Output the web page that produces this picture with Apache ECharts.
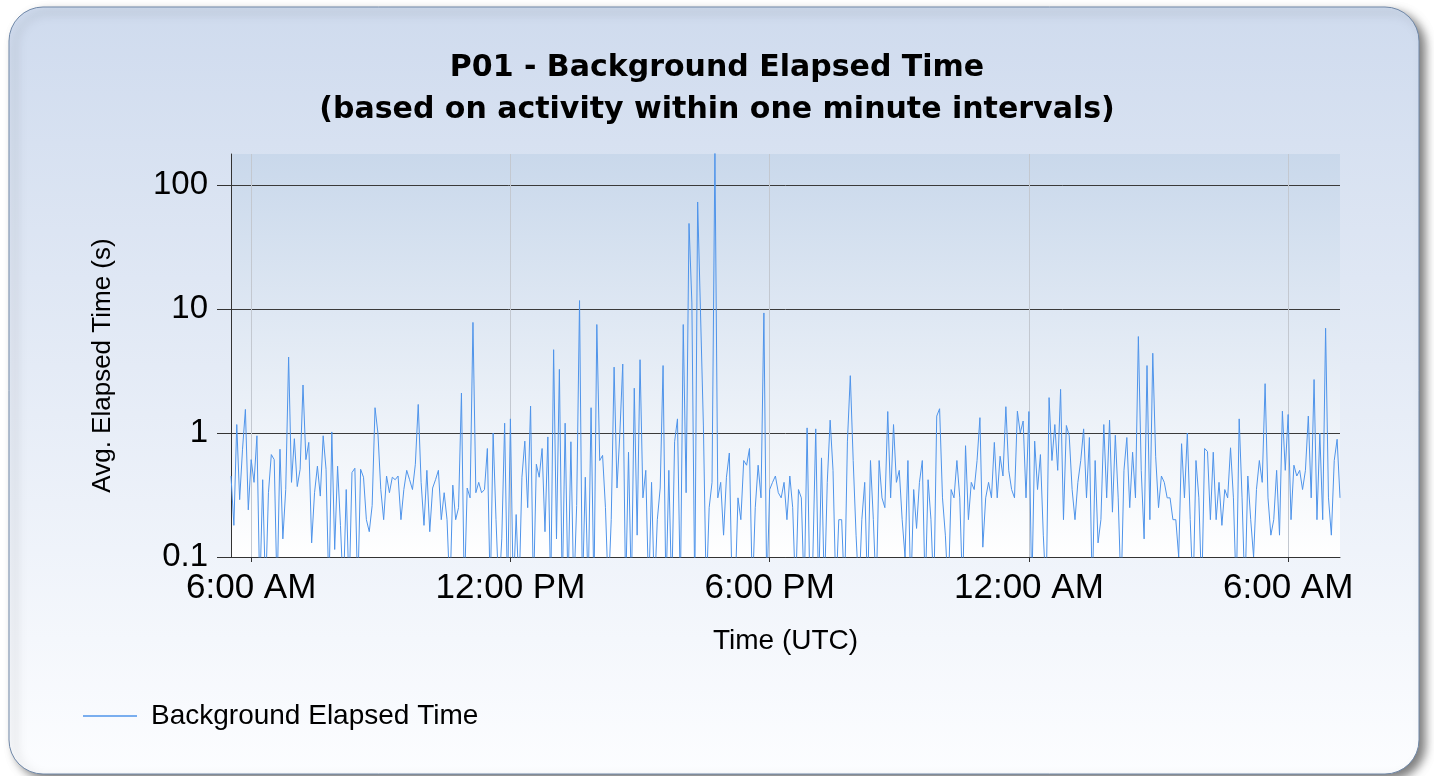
<!DOCTYPE html>
<html>
<head>
<meta charset="utf-8">
<title>P01 - Background Elapsed Time</title>
<script src="https://cdn.jsdelivr.net/npm/echarts@6/dist/echarts.min.js"></script>
<style>
    html, body { margin: 0; padding: 0; background: #ffffff; }
    #chart { width: 1434px; height: 776px; }
</style>
</head>
<body>
<div id="chart"></div>
<script>
    // readings taken every 4 minutes from 5:32 AM
    const startTime = new Date(2020, 0, 1, 5, 32).getTime();
    const endTime = new Date(2020, 0, 2, 7, 12).getTime();
    const stepMinutes = 4;

    const elapsed = [
        0.45, 0.18, 1.17, 0.29, 0.74, 1.55, 0.24, 0.61, 0.4, 0.95,
        0.05, 0.42, 0.05, 0.33, 0.67, 0.61, 0.05, 0.74, 0.14, 0.35,
        4.1, 0.4, 0.9, 0.37, 0.51, 2.44, 0.61, 0.84, 0.13, 0.33,
        0.54, 0.31, 0.95, 0.51, 0.05, 1.02, 0.115, 0.54, 0.18, 0.05,
        0.35, 0.05, 0.48,
        0.52, 0.05, 0.51, 0.44, 0.2, 0.16, 0.26, 1.6, 1.0, 0.35,
        0.2, 0.45, 0.33, 0.44, 0.42, 0.45, 0.2, 0.35, 0.5, 0.42,
        0.35, 0.56, 1.7, 0.4, 0.18, 0.5, 0.16, 0.36, 0.42, 0.5,
        0.2, 0.33, 0.2, 0.05, 0.38, 0.2, 0.25, 2.1, 0.05, 0.36,
        0.3, 7.8, 0.33,
        0.4, 0.33, 0.35, 0.75, 0.05, 1.0, 0.2, 0.05, 0.14, 1.2,
        0.05, 1.3, 0.05, 0.22, 0.05, 0.44, 0.86, 0.25, 1.65, 0.05,
        0.56, 0.44, 0.75, 0.16, 0.93, 0.05, 4.7, 0.14, 3.26, 0.05,
        1.2, 0.05, 0.85, 0.05, 0.26, 11.7, 0.05, 0.44, 0.05, 1.6,
        0.05, 7.5, 0.6,
        0.66, 0.25, 0.05, 0.2, 3.4, 0.36, 1.0, 3.6, 0.05, 0.7,
        0.05, 2.3, 0.15, 3.9, 0.3, 0.5, 0.05, 0.4, 0.05, 0.2,
        0.36, 3.5, 0.05, 0.5, 0.05, 0.85, 1.3, 0.05, 7.5, 0.33,
        49, 11.2, 0.05, 73, 9.3, 1.14, 0.05, 0.25, 0.4, 190,
        0.3, 0.4, 0.15,
        0.44, 0.69, 0.05, 0.05, 0.3, 0.2, 0.6, 0.55, 0.75, 0.05,
        0.25, 0.55, 0.3, 9.3, 0.05, 0.35, 0.4, 0.45, 0.33, 0.3,
        0.4, 0.2, 0.45, 0.25, 0.05, 0.35, 0.3, 0.05, 1.1, 0.05,
        0.1, 1.08, 0.05, 0.63, 0.05, 0.4, 1.27, 0.5, 0.05, 0.2,
        0.2, 0.05, 0.86,
        2.9, 0.6, 0.15, 0.05, 0.2, 0.4, 0.05, 0.6, 0.2, 0.05,
        0.6, 0.3, 0.25, 1.49, 0.3, 1.17, 0.4, 0.5, 0.2, 0.1,
        0.6, 0.05, 0.35, 0.17, 0.4, 0.6, 0.05, 0.42, 0.2, 0.05,
        1.37, 1.57, 0.3, 0.15, 0.05, 0.35, 0.3, 0.6, 0.3, 0.05,
        0.79, 0.2, 0.4,
        0.35, 0.6, 1.33, 0.12, 0.3, 0.4, 0.3, 0.84, 0.3, 0.65,
        0.45, 1.63, 0.5, 0.35, 0.3, 1.5, 1.0, 1.25, 0.3, 1.49,
        0.05, 0.86, 0.35, 0.67, 0.15, 0.05, 1.93, 0.6, 1.17, 0.5,
        2.25, 0.2, 1.15, 0.95, 0.35, 0.2, 0.4, 0.6, 1.08, 0.3,
        0.92, 0.05, 0.6,
        0.13, 0.2, 1.17, 0.3, 1.27, 0.23, 0.96, 0.3, 0.05, 0.5,
        0.92, 0.25, 0.7, 0.3, 6.0, 0.5, 0.14, 3.5, 0.2, 4.4,
        0.65, 0.25, 0.45, 0.4, 0.3, 0.3, 0.2, 0.2, 0.1, 0.82,
        0.3, 1.0, 0.2, 0.05, 0.6, 0.3, 0.05, 0.75, 0.71, 0.2,
        0.7, 0.2, 0.4,
        0.18, 0.35, 0.3, 0.76, 0.3, 0.05, 1.3, 0.3, 0.05, 0.45,
        0.2, 0.1, 0.35, 0.6, 0.4, 2.5, 0.3, 0.15, 0.2, 0.5,
        0.15, 1.5, 0.5, 1.41, 0.2, 0.55, 0.45, 0.5, 0.35, 0.5,
        1.37, 0.3, 2.7, 0.2, 1.0, 0.2, 7.0, 0.3, 0.15, 0.6,
        0.89, 0.3
    ];

    const xTickTimes = [
        new Date(2020, 0, 1, 6, 0).getTime(),
        new Date(2020, 0, 1, 12, 0).getTime(),
        new Date(2020, 0, 1, 18, 0).getTime(),
        new Date(2020, 0, 2, 0, 0).getTime(),
        new Date(2020, 0, 2, 6, 0).getTime()
    ];
    const xTickLabels = ['6:00 AM', '12:00 PM', '6:00 PM', '12:00 AM', '6:00 AM'];
    const yTickValues = [0.1, 1, 10, 100];
    const yTickLabels = ['0.1', '1', '10', '100'];

    const seriesData = elapsed.map(function (v, i) {
        return [startTime + i * stepMinutes * 60000, v];
    });

    const chart = echarts.init(document.getElementById('chart'));
    const option = {
        animation: false,
        backgroundColor: '#ffffff',
        graphic: [{
            type: 'rect',
            z: -10,
            silent: true,
            shape: {x: 9, y: 7, width: 1410, height: 767, r: 34},
            style: {
                fill: {
                    type: 'linear', x: 0, y: 0, x2: 0, y2: 1,
                    colorStops: [
                        {offset: 0, color: '#cfdbee'},
                        {offset: 1, color: '#fcfdff'}
                    ]
                },
                stroke: '#7088a8',
                lineWidth: 1,
                shadowBlur: 10,
                shadowOffsetX: 6,
                shadowOffsetY: 5,
                shadowColor: 'rgba(0,0,0,0.5)'
            }
        }],
        title: {
            text: 'P01 - Background Elapsed Time\n(based on activity within one minute intervals)',
            left: 'center',
            top: 42,
            textStyle: {
                fontFamily: 'DejaVu Sans',
                fontWeight: 'bold',
                fontSize: 30,
                lineHeight: 42,
                color: '#000000'
            }
        },
        legend: {
            left: 78,
            top: 697,
            icon: 'rect',
            itemWidth: 54,
            itemHeight: 1.5,
            textStyle: {
                fontFamily: 'Liberation Sans',
                fontSize: 28,
                color: '#000000',
                padding: [0, 0, 0, 9]
            },
            data: ['Background Elapsed Time']
        },
        grid: {
            left: 231,
            right: 94,
            top: 154,
            bottom: 219,
            show: true,
            borderWidth: 0,
            backgroundColor: {
                type: 'linear', x: 0, y: 0, x2: 0, y2: 1,
                colorStops: [
                    {offset: 0, color: '#c9d8eb'},
                    {offset: 1, color: '#ffffff'}
                ]
            }
        },
        xAxis: {
            type: 'value',
            min: startTime,
            max: endTime,
            name: 'Time (UTC)',
            nameLocation: 'middle',
            nameGap: 70,
            nameTextStyle: {fontFamily: 'Liberation Sans', fontSize: 28, color: '#000000'},
            axisLine: {show: true, lineStyle: {color: '#333333', width: 1}},
            axisTick: {show: true, length: 5, customValues: xTickTimes, lineStyle: {color: '#333333'}},
            axisLabel: {
                customValues: xTickTimes,
                margin: 14,
                fontFamily: 'Liberation Sans',
                fontSize: 35,
                color: '#000000',
                formatter: function (val) {
                    const idx = xTickTimes.indexOf(val);
                    return idx >= 0 ? xTickLabels[idx] : '';
                }
            },
            splitLine: {show: true, lineStyle: {color: '#c3c8d0', width: 1}}
        },
        yAxis: {
            type: 'log',
            logBase: 10,
            min: 0.1,
            max: 178,
            name: 'Avg. Elapsed Time (s)',
            nameLocation: 'middle',
            nameGap: 115,
            nameTextStyle: {
                fontFamily: 'Liberation Sans',
                fontSize: 26,
                color: '#000000',
                padding: [0, 20, 0, 0]
            },
            axisLine: {show: true, lineStyle: {color: '#333333', width: 1}},
            axisTick: {show: true, length: 14, customValues: yTickValues, lineStyle: {color: '#333333'}},
            axisLabel: {
                customValues: yTickValues,
                margin: 23,
                fontFamily: 'Liberation Sans',
                fontSize: 33,
                color: '#000000',
                formatter: function (val) {
                    for (let i = 0; i < yTickValues.length; i++) {
                        if (Math.abs(yTickValues[i] - val) < val * 1e-6) {
                            return yTickLabels[i];
                        }
                    }
                    return '';
                }
            },
            splitLine: {show: true, lineStyle: {color: '#3a3a3a', width: 1}}
        },
        series: [{
            name: 'Background Elapsed Time',
            type: 'line',
            symbol: 'none',
            showSymbol: false,
            clip: true,
            lineStyle: {color: '#4f94ea', width: 1},
            itemStyle: {color: '#4f94ea'},
            data: seriesData
        }]
    };
    chart.setOption(option);
    window.addEventListener('resize', chart.resize);
</script>
</body>
</html>
